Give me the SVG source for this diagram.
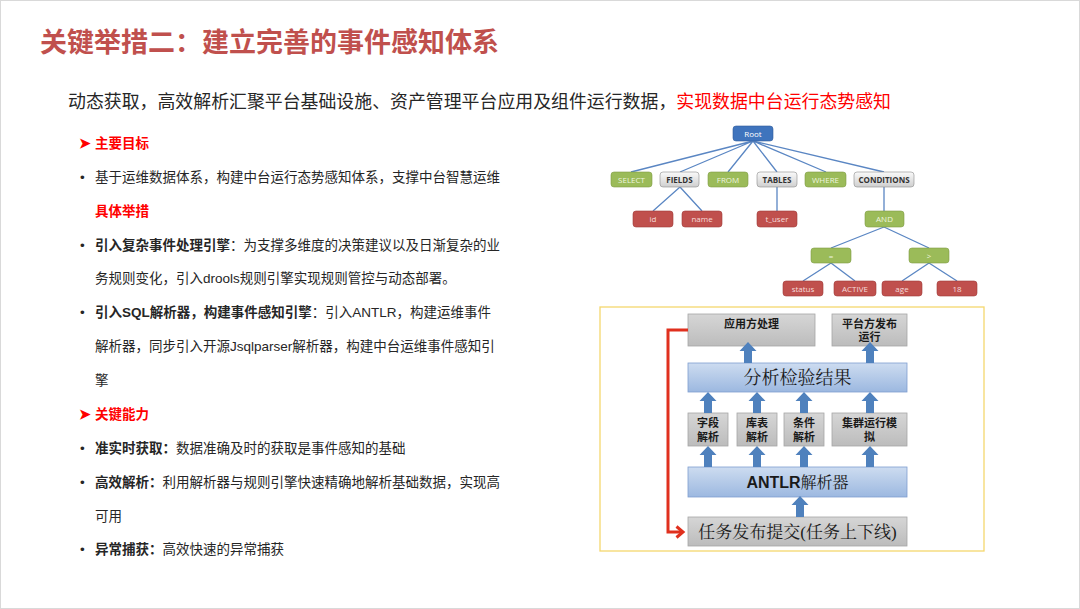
<svg xmlns="http://www.w3.org/2000/svg" width="1080" height="609" viewBox="0 0 1080 609">
<defs>
<style>
.t{font-family:"Liberation Sans","Noto Sans CJK SC",sans-serif;}
.body{font-family:"Liberation Sans","Noto Sans CJK SC",sans-serif;font-size:13.5px;fill:#262626;}
.b{font-weight:bold;}
.red{fill:#FF0000;}
.tn{font-family:"Open Sans","Liberation Sans",sans-serif;font-size:8px;text-anchor:middle;}
.edge{stroke:#5a86c3;stroke-width:1.3;fill:none;}
.gbox{fill:url(#gray);stroke:#a6a6a6;stroke-width:0.8;}
.bbox{fill:url(#blue);stroke:#7f9fd0;stroke-width:0.8;}
.bl{font-family:"Liberation Sans","Noto Sans CJK SC",sans-serif;font-size:11px;font-weight:bold;fill:#1a1a1a;text-anchor:middle;}
.serif{font-family:"Liberation Serif","Noto Serif CJK SC","Noto Sans CJK SC",serif;fill:#1a1a1a;text-anchor:middle;}
</style>
<linearGradient id="gray" x1="0" y1="0" x2="0" y2="1"><stop offset="0" stop-color="#d6d6d6"/><stop offset="1" stop-color="#bcbcbc"/></linearGradient>
<linearGradient id="blue" x1="0" y1="0" x2="0" y2="1"><stop offset="0" stop-color="#cddcf0"/><stop offset="1" stop-color="#9cb8e0"/></linearGradient>
<linearGradient id="gn" x1="0" y1="0" x2="0" y2="1"><stop offset="0" stop-color="#fafafa"/><stop offset="1" stop-color="#cfcfcf"/></linearGradient>
<path id="up" d="M-4,0 V-12 H-8.5 L0,-21 L8.5,-12 H4 V0 Z" fill="#4F81BD"/>
<marker id="rarr" markerWidth="12" markerHeight="14" refX="8" refY="7" orient="auto" markerUnits="userSpaceOnUse">
<polyline points="1.5,1.5 8,7 1.5,12.5" fill="none" stroke="#E0301E" stroke-width="3"/>
</marker>
</defs>
<rect x="0.5" y="0.5" width="1079" height="608" fill="#ffffff" stroke="#d9d9d9"/>

<text class="t b" x="40" y="52" font-size="27" fill="#C0504D">关键举措二：建立完善的事件感知体系</text>
<text class="t" x="68" y="108" font-size="17.9" fill="#262626">动态获取，高效解析汇聚平台基础设施、资产管理平台应用及组件运行数据，<tspan fill="#FF0000">实现数据中台运行态势感知</tspan></text>

<g id="left-text">
<text class="body b red" x="79" y="148" font-size="11">➤</text>
<text class="body b red" x="95" y="148">主要目标</text>
<text class="body" x="80" y="182">•</text>
<text class="body" x="95" y="182">基于运维数据体系，构建中台运行态势感知体系，支撑中台智慧运维</text>
<text class="body b red" x="95" y="216">具体举措</text>
<text class="body" x="80" y="250">•</text>
<text class="body" x="95" y="250"><tspan class="b">引入复杂事件处理引擎</tspan>：为支撑多维度的决策建议以及日渐复杂的业</text>
<text class="body" x="95" y="283">务规则变化，引入drools规则引擎实现规则管控与动态部署。</text>
<text class="body" x="80" y="317">•</text>
<text class="body" x="95" y="317"><tspan class="b">引入SQL解析器，构建事件感知引擎</tspan>：引入ANTLR，构建运维事件</text>
<text class="body" x="95" y="351">解析器，同步引入开源Jsqlparser解析器，构建中台运维事件感知引</text>
<text class="body" x="95" y="385">擎</text>
<text class="body b red" x="79" y="419" font-size="11">➤</text>
<text class="body b red" x="95" y="419">关键能力</text>
<text class="body" x="80" y="453">•</text>
<text class="body" x="95" y="453"><tspan class="b">准实时获取：</tspan>数据准确及时的获取是事件感知的基础</text>
<text class="body" x="80" y="487">•</text>
<text class="body" x="95" y="487"><tspan class="b">高效解析：</tspan>利用解析器与规则引擎快速精确地解析基础数据，实现高</text>
<text class="body" x="95" y="521">可用</text>
<text class="body" x="80" y="554">•</text>
<text class="body" x="95" y="554"><tspan class="b">异常捕获：</tspan>高效快速的异常捕获</text>
</g>

<g id="tree-edges">
<path class="edge" d="M753,141 L631,172 M753,141 L680,172 M753,141 L728,172 M753,141 L777,172 M753,141 L826,172 M753,141 L884,172"/>
<path class="edge" d="M680,187 L653,211 M680,187 L702,211 M777,187 L777,211 M884,187 L884,211"/>
<path class="edge" d="M884,227 L831,248 M884,227 L929,248 M831,263 L803,281 M831,263 L855,281 M929,263 L902,281 M929,263 L957,281"/>
</g>
<g id="tree-nodes">
<g id="n-root"><rect x="733" y="126" width="40" height="15" rx="3" fill="#3f74bd" stroke="#2f5d9a" stroke-width="0.6"/><text class="tn" x="753" y="136.5" fill="#ffffff">Root</text></g>
<g id="n-select"><rect x="611" y="172" width="41" height="15" rx="3" fill="#9BBB59" stroke="#7f9c45" stroke-width="0.6"/><text class="tn" x="631.5" y="182.5" fill="#eef5df">SELECT</text></g>
<g id="n-fields"><rect x="660" y="172" width="39" height="15" rx="3" fill="url(#gn)" stroke="#8c8c8c" stroke-width="0.6"/><text class="tn b" x="679.5" y="182.5" fill="#333">FIELDS</text></g>
<g id="n-from"><rect x="708" y="172" width="40" height="15" rx="3" fill="#9BBB59" stroke="#7f9c45" stroke-width="0.6"/><text class="tn" x="728" y="182.5" fill="#eef5df">FROM</text></g>
<g id="n-tables"><rect x="757" y="172" width="40" height="15" rx="3" fill="url(#gn)" stroke="#8c8c8c" stroke-width="0.6"/><text class="tn b" x="777" y="182.5" fill="#333">TABLES</text></g>
<g id="n-where"><rect x="805" y="172" width="41" height="15" rx="3" fill="#9BBB59" stroke="#7f9c45" stroke-width="0.6"/><text class="tn" x="825.5" y="182.5" fill="#eef5df">WHERE</text></g>
<g id="n-conditions"><rect x="854" y="172" width="60" height="15" rx="3" fill="url(#gn)" stroke="#8c8c8c" stroke-width="0.6"/><text class="tn b" x="884" y="182.5" fill="#333">CONDITIONS</text></g>
<g id="n-id"><rect x="633" y="211" width="40" height="16" rx="3" fill="#C0504D" stroke="#9e3b38" stroke-width="0.6"/><text class="tn" x="653" y="222" fill="#f6dcdb">id</text></g>
<g id="n-name"><rect x="682" y="211" width="40" height="16" rx="3" fill="#C0504D" stroke="#9e3b38" stroke-width="0.6"/><text class="tn" x="702" y="222" fill="#f6dcdb">name</text></g>
<g id="n-tuser"><rect x="757" y="211" width="40" height="16" rx="3" fill="#C0504D" stroke="#9e3b38" stroke-width="0.6"/><text class="tn" x="777" y="222" fill="#f6dcdb">t_user</text></g>
<g id="n-and"><rect x="865" y="211" width="39" height="16" rx="3" fill="#9BBB59" stroke="#7f9c45" stroke-width="0.6"/><text class="tn" x="884.5" y="222" fill="#eef5df">AND</text></g>
<g id="n-eq"><rect x="811" y="248" width="40" height="15" rx="3" fill="#9BBB59" stroke="#7f9c45" stroke-width="0.6"/><text class="tn" x="831" y="258.5" fill="#eef5df">=</text></g>
<g id="n-gt"><rect x="909" y="248" width="40" height="15" rx="3" fill="#9BBB59" stroke="#7f9c45" stroke-width="0.6"/><text class="tn" x="929" y="258.5" fill="#eef5df">&gt;</text></g>
<g id="n-status"><rect x="783" y="281" width="40" height="15" rx="3" fill="#C0504D" stroke="#9e3b38" stroke-width="0.6"/><text class="tn" x="803" y="291.5" fill="#f6dcdb">status</text></g>
<g id="n-active"><rect x="834" y="281" width="42" height="15" rx="3" fill="#C0504D" stroke="#9e3b38" stroke-width="0.6"/><text class="tn" x="855" y="291.5" fill="#f6dcdb">ACTIVE</text></g>
<g id="n-age"><rect x="882" y="281" width="40" height="15" rx="3" fill="#C0504D" stroke="#9e3b38" stroke-width="0.6"/><text class="tn" x="902" y="291.5" fill="#f6dcdb">age</text></g>
<g id="n-18"><rect x="937" y="281" width="40" height="15" rx="3" fill="#C0504D" stroke="#9e3b38" stroke-width="0.6"/><text class="tn" x="957" y="291.5" fill="#f6dcdb">18</text></g>
</g>

<rect x="600" y="307" width="384" height="244" fill="#ffffff" stroke="#f5d76e" stroke-width="1.3"/>

<g id="flow-nodes">
<g id="f-app"><rect class="gbox" x="688" y="314" width="127" height="32"/><text class="bl" x="751.5" y="328">应用方处理</text></g>
<g id="f-plat"><rect class="gbox" x="832" y="314" width="75" height="32"/><text class="bl" x="869.5" y="328">平台方发布</text><text class="bl" x="869.5" y="341">运行</text></g>
<g id="f-result"><rect class="bbox" x="688" y="363" width="219" height="29"/><text class="serif" x="797.5" y="384" font-size="18">分析检验结果</text></g>
<g id="f-field"><rect class="gbox" x="688" y="413" width="40" height="33"/><text class="bl" x="708" y="427">字段</text><text class="bl" x="708" y="441">解析</text></g>
<g id="f-table"><rect class="gbox" x="737" y="413" width="40" height="33"/><text class="bl" x="757" y="427">库表</text><text class="bl" x="757" y="441">解析</text></g>
<g id="f-cond"><rect class="gbox" x="784" y="413" width="40" height="33"/><text class="bl" x="804" y="427">条件</text><text class="bl" x="804" y="441">解析</text></g>
<g id="f-cluster"><rect class="gbox" x="832" y="413" width="75" height="33"/><text class="bl" x="869.5" y="427">集群运行模</text><text class="bl" x="869.5" y="441">拟</text></g>
<g id="f-antlr"><rect class="bbox" x="688" y="467" width="219" height="30"/><text class="t b" x="797.5" y="488" font-size="16" fill="#1a1a1a" text-anchor="middle">ANTLR<tspan font-weight="normal" font-family="Liberation Serif,Noto Serif CJK SC,Noto Sans CJK SC,serif">解析器</tspan></text></g>
<g id="f-task"><rect class="gbox" x="688" y="517" width="219" height="29"/><text class="serif" x="797.5" y="538" font-size="17">任务发布提交(任务上下线)</text></g>
</g>

<g id="flow-connectors">
<use href="#up" x="748" y="363"/>
<use href="#up" x="870" y="363"/>
<use href="#up" x="708" y="413"/>
<use href="#up" x="757" y="413"/>
<use href="#up" x="804" y="413"/>
<use href="#up" x="870" y="413"/>
<use href="#up" x="708" y="467"/>
<use href="#up" x="757" y="467"/>
<use href="#up" x="804" y="467"/>
<use href="#up" x="870" y="467"/>
<use href="#up" x="800" y="517"/>
<path d="M688,330 H668 V532 H683" fill="none" stroke="#E0301E" stroke-width="3" marker-end="url(#rarr)"/>
</g>
</svg>
